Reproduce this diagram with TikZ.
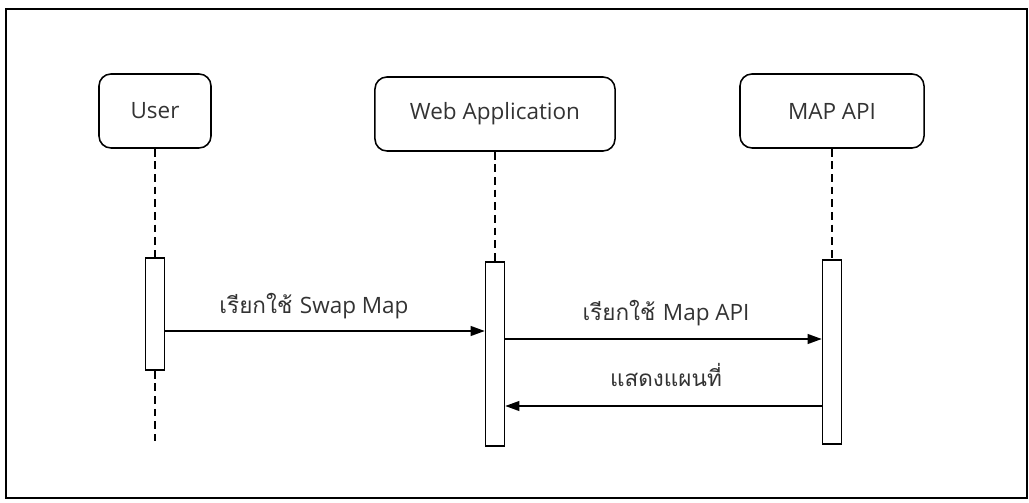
\documentclass[tikz,border=0pt]{standalone}
\usepackage{fontspec}
\setmainfont{Open Sans}
\newfontfamily\thaifont[Script=Thai]{Loma}
\usetikzlibrary{arrows.meta}
\begin{document}
\begin{tikzpicture}[x=0.025cm,y=-0.025cm,
        actor/.style={draw, line width=1.1pt, rounded corners=0.3cm, text=black!80,
            font=\fontsize{16}{19}\selectfont, minimum height=1.85cm},
        bar/.style={draw, line width=1.1pt, fill=white, minimum width=0.475cm},
        life/.style={line width=1.1pt, dash pattern=on 5.5pt off 3.5pt},
        msg/.style={line width=1.1pt, -{Triangle[length=10pt,width=7pt]}},
        lbl/.style={text=black!80, font=\fontsize{16}{19}\selectfont, inner sep=0pt}]
        \useasboundingbox (0,0) rectangle (1029,503);
        \draw [line width=1.3pt] (6,9) rectangle (1027,498);
        % actors
        \node[actor, minimum width=2.8cm] (user) at (155,111) {User};
        \node[actor, minimum width=6cm] (webapp) at (495,114) {Web Application};
        \node[actor, minimum width=4.6cm] (mapapi) at (832,111) {MAP API};
        % activation bars
        \node[bar, minimum height=2.8cm] (userbar) at (155,314) {};
        \node[bar, minimum height=4.6cm] (webbar) at (495,354) {};
        \node[bar, minimum height=4.6cm] (mapbar) at (832,352) {};
        \coordinate (userend) at (155,441);
        % lifelines
        \draw[life] (user.south) -- (userbar.north);
        \draw[life] (userbar.south) -- (userend);
        \draw[life] (webapp.south) -- (webbar.north);
        \draw[life] (mapapi.south) -- (mapbar.north);
        % messages
        \draw[msg] (userbar.east |- 0,331) -- (webbar.west |- 0,331);
        \draw[msg] (webbar.east |- 0,339) -- (mapbar.west |- 0,339);
        \draw[msg] (mapbar.west |- 0,406) -- (webbar.east |- 0,406);
        \node[lbl] (swaplbl) at (314,306) {\thaifont เรียกใช้ \rmfamily Swap Map};
        \node[lbl] (apilbl) at (666,313) {\thaifont เรียกใช้ \rmfamily Map API};
        \node[lbl] (showlbl) at (666,375) {\thaifont แสดงแผนที่};
    \end{tikzpicture}
\end{document}
